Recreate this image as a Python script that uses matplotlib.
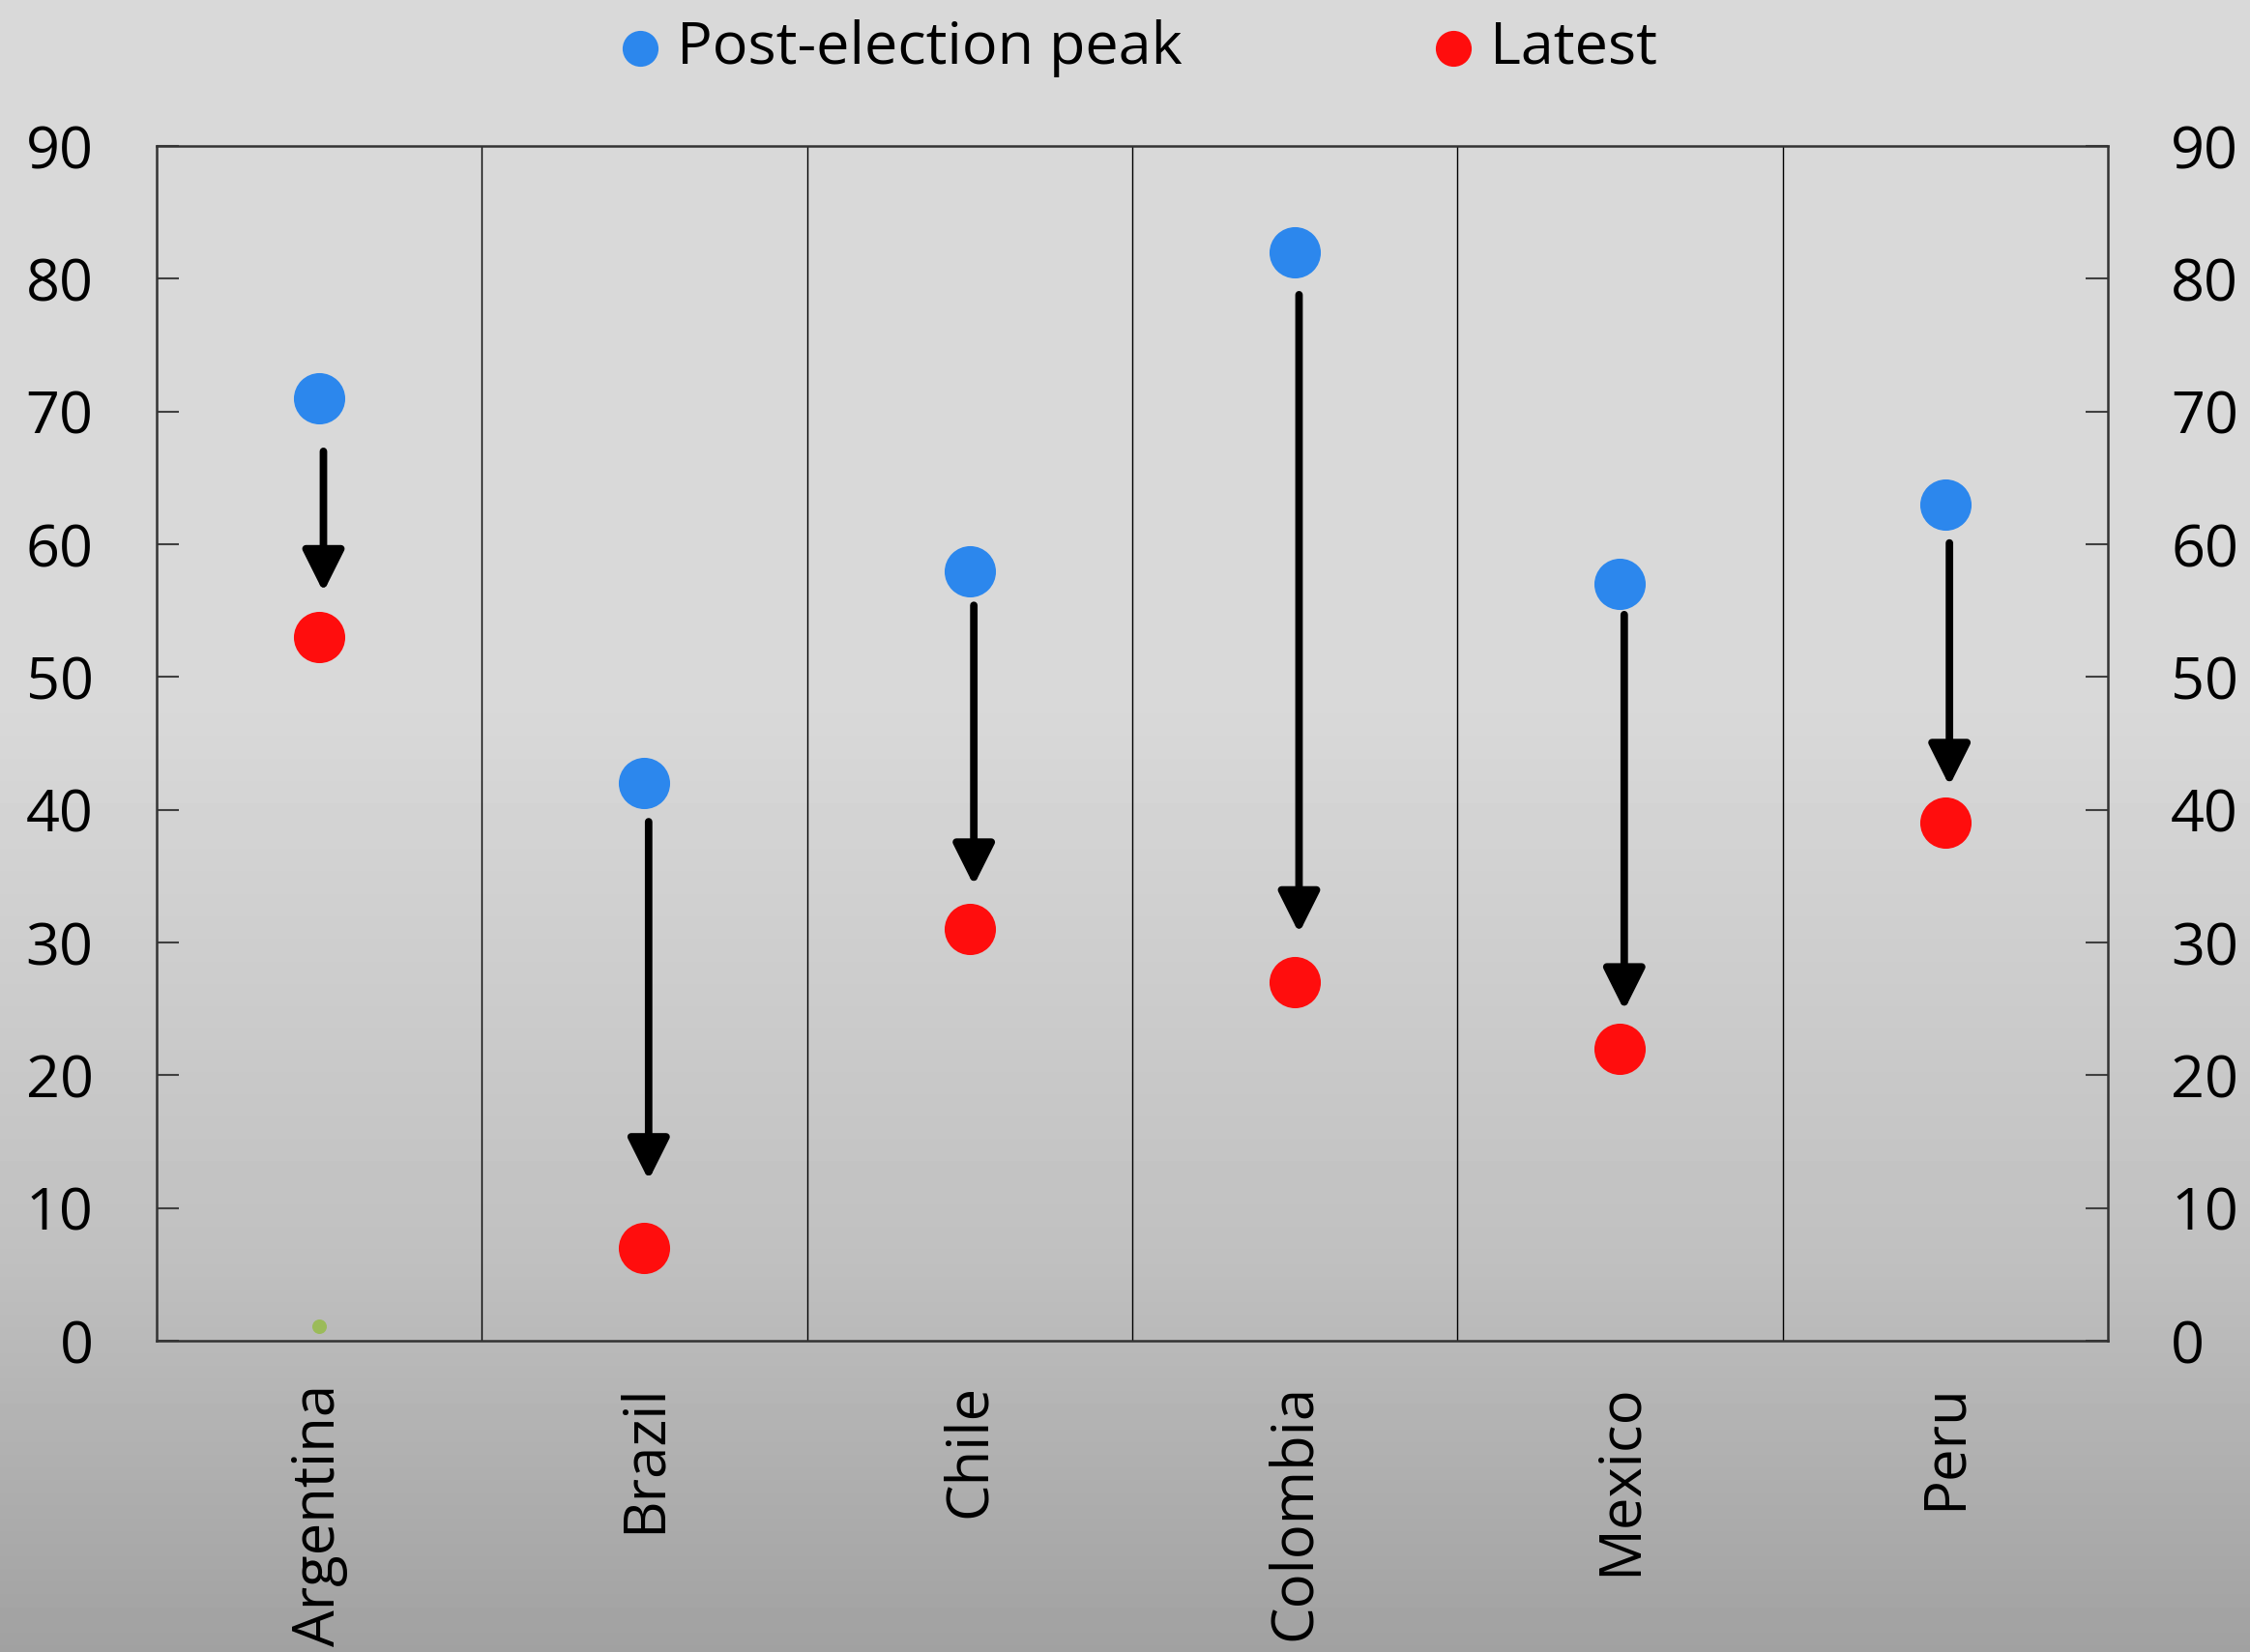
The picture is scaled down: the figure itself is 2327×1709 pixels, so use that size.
import numpy as np
import matplotlib
matplotlib.use("Agg")
import matplotlib.pyplot as plt
from matplotlib.patches import ArrowStyle

plt.rcParams["font.family"] = ["Open Sans", "DejaVu Sans"]

countries = ["Argentina", "Brazil", "Chile", "Colombia", "Mexico", "Peru"]
peak = [71, 42, 58, 82, 57, 63]
latest = [53, 7, 31, 27, 22, 39]
# arrows drawn between the two dots (start, tip)
arrow_from = [67.0, 39.1, 55.4, 78.8, 54.7, 60.1]
arrow_to = [56.4, 12.1, 34.3, 30.7, 24.9, 41.8]
# small green marker at the bottom of the Argentina panel
extra_x = [0]
extra_y = [1.1]

yticks = list(range(0, 91, 10))

fig = plt.figure(figsize=(23.27, 17.09), dpi=100)

# grey vertical gradient behind everything
bg = fig.add_axes([0, 0, 1, 1], zorder=-10)
rows = np.linspace(0, 1, 400)
shade = np.interp(rows, [0, 0.42, 0.585, 0.76, 1.0], [217, 217, 205, 192, 161])
bg.imshow(np.repeat(shade[:, None], 2, axis=1), cmap="gray", vmin=0, vmax=255,
          aspect="auto", extent=[0, 1, 0, 1], origin="upper", interpolation="bilinear")
bg.axis("off")

ax = fig.add_axes([0.0696, 0.1884, 0.8672, 0.7232])
ax.set_facecolor("none")

x = np.arange(len(countries))
blue = ax.scatter(x, peak, s=1460, color="#2C87ED", zorder=3, linewidths=0,
                  label="Post-election peak")
red = ax.scatter(x, latest, s=1460, color="#FF0D0D", zorder=3, linewidths=0,
                 label="Latest")
ax.scatter(extra_x, extra_y, s=117, color="#9BBB59", zorder=3, linewidths=0)

style = ArrowStyle("-|>", head_length=26, head_width=13)
for i in range(len(countries)):
    ax.annotate("", xy=(x[i] + 0.013, arrow_to[i]), xytext=(x[i] + 0.013, arrow_from[i]),
                arrowprops=dict(arrowstyle=style, mutation_scale=1, lw=5.6, color="black",
                                shrinkA=0, shrinkB=0), zorder=4)

# panel separators
for b in np.arange(0.5, len(countries) - 1, 1):
    ax.axvline(b, color="black", lw=1.0, zorder=1)

ax.set_xlim(-0.5, len(countries) - 0.5)
ax.set_ylim(0, 90)
ax.set_yticks(yticks)
ax.set_xticks(x)
ax.set_xticklabels(countries, rotation=90, fontsize=43)
ax.tick_params(axis="x", length=0, pad=32)
ax.tick_params(axis="y", direction="in", length=16.5, width=1.5, color="#404040",
               left=True, right=True, labelleft=True, labelright=True,
               labelsize=44, pad=47)

for sp in ax.spines.values():
    sp.set_color("#333333")
    sp.set_linewidth(1.8)

fig.legend(handles=[blue, red], labels=["Post-election peak", "Latest"],
           loc="center", bbox_to_anchor=(0.506, 0.971), ncol=2, frameon=False,
           fontsize=44, markerscale=0.7, handlelength=0.7, handletextpad=0.27,
           columnspacing=4.23, borderpad=0)

plt.savefig("out.png", dpi=100)
